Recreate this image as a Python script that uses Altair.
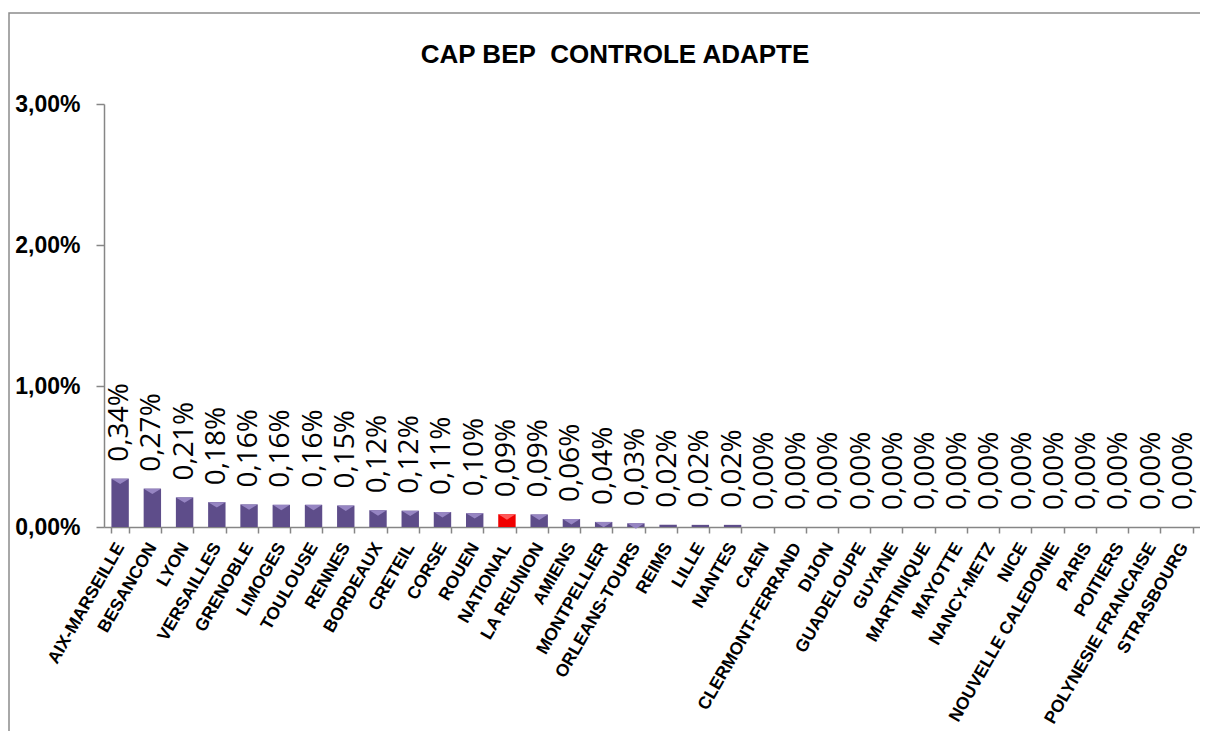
import altair as alt
import pandas as pd

academies = [
    "AIX-MARSEILLE", "BESANCON", "LYON", "VERSAILLES", "GRENOBLE", "LIMOGES",
    "TOULOUSE", "RENNES", "BORDEAUX", "CRETEIL", "CORSE", "ROUEN", "NATIONAL",
    "LA REUNION", "AMIENS", "MONTPELLIER", "ORLEANS-TOURS", "REIMS", "LILLE",
    "NANTES", "CAEN", "CLERMONT-FERRAND", "DIJON", "GUADELOUPE", "GUYANE",
    "MARTINIQUE", "MAYOTTE", "NANCY-METZ", "NICE", "NOUVELLE CALEDONIE",
    "PARIS", "POITIERS", "POLYNESIE FRANCAISE", "STRASBOURG",
]
# values in percent
valeurs = [
    0.343, 0.272, 0.210, 0.176, 0.160, 0.157, 0.157, 0.152, 0.118, 0.116,
    0.106, 0.098, 0.090, 0.088, 0.056, 0.036, 0.026, 0.016, 0.0152, 0.0152,
    0.0, 0.0, 0.0, 0.0, 0.0, 0.0, 0.0, 0.0, 0.0, 0.0, 0.0, 0.0, 0.0, 0.0,
]
y_ticks = [0, 1, 2, 3]
titre = "CAP BEP\u00a0 CONTROLE ADAPTE"
highlight = "NATIONAL"

df = pd.DataFrame({"academie": academies, "valeur": valeurs})

GRAY = "#868686"
PURPLE = "#5E4D8A"
PURPLE_LIGHT = "#9685C2"
RED = "#F00000"
RED_LIGHT = "#FF5A5A"

x_enc = alt.X(
    "academie:N",
    sort=academies,
    scale=alt.Scale(paddingInner=0.46, paddingOuter=0.23),
    axis=alt.Axis(
        title=None,
        labelAngle=-60,
        labelAlign="right",
        labelBaseline="middle",
        labelFont="Liberation Sans",
        labelFontWeight="bold",
        labelFontSize=17.5,
        labelColor="black",
        labelPadding=11,
        labelLimit=400,
        labelOverlap=False,
        tickBand="extent",
        tickSize=6,
        tickColor=GRAY,
        tickWidth=1.5,
        domainColor=GRAY,
        domainWidth=1.5,
    ),
)
y_enc = alt.Y(
    "valeur:Q",
    scale=alt.Scale(domain=[0, 3], nice=False),
    axis=alt.Axis(
        title=None,
        values=y_ticks,
        grid=False,
        labelExpr="replace(format(datum.value, '.2f'), '.', ',') + '%'",
        labelFont="Liberation Sans",
        labelFontWeight="bold",
        labelFontSize=23,
        labelColor="black",
        labelPadding=16,
        tickSize=8,
        tickColor=GRAY,
        tickWidth=1.5,
        domainColor=GRAY,
        domainWidth=1.5,
    ),
)

base = alt.Chart(df).transform_calculate(
    label="replace(format(datum.valeur, '.2f'), '.', ',') + '%'"
)

frame = alt.Chart(pd.DataFrame({"f": [0]})).mark_rect(
    fillOpacity=0, stroke="#8C8C8C", strokeWidth=1.5
).encode(
    x=alt.value(-95), x2=alt.value(1400), y=alt.value(-91), y2=alt.value(800)
)

is_hl = alt.datum.academie == highlight
bars = base.mark_bar(color=PURPLE).encode(x=x_enc, y=y_enc).transform_filter(~is_hl)
bars_red = base.mark_bar(color=RED).encode(x=x_enc, y=y_enc).transform_filter(is_hl)

tri_shape = "M-1,0L1,0L0,0.62Z"
tops = base.mark_point(
    shape=tri_shape, filled=True, size=300, opacity=1, color=PURPLE_LIGHT
).encode(x=x_enc, y=y_enc).transform_filter(
    (alt.datum.valeur > 0.02) & (alt.datum.academie != highlight)
)
tops_red = base.mark_point(
    shape=tri_shape, filled=True, size=300, opacity=1, color=RED_LIGHT
).encode(x=x_enc, y=y_enc).transform_filter(is_hl)

labels = base.mark_text(
    angle=270, align="left", baseline="middle", dx=17,
    font="Open Sans", fontSize=28, color="black",
).encode(x=x_enc, y=y_enc, text="label:N")

chart = alt.layer(frame, bars, bars_red, tops, tops_red, labels).properties(
    width=1096,
    height=423,
    autosize=alt.AutoSizeParams(type="none"),
    padding={"left": 96, "top": 96, "right": 0, "bottom": 204},
    title=alt.TitleParams(
        titre,
        font="Liberation Sans",
        fontSize=26,
        fontWeight="bold",
        color="black",
        anchor="middle",
        frame="group",
        dx=-37,
        baseline="alphabetic",
        offset=-77,
    ),
).configure_view(strokeWidth=0)

chart.save("out.html", embed_options={"renderer": "svg", "actions": False})
